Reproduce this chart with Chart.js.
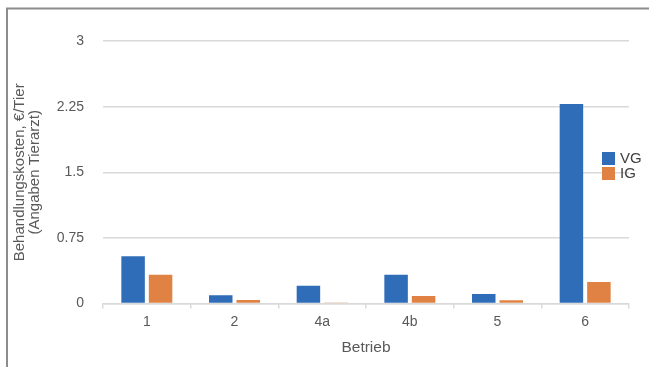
<!DOCTYPE html>
<html>
<head>
<meta charset="utf-8">
<script src="https://cdn.jsdelivr.net/npm/chart.js@4/dist/chart.umd.min.js"></script>
<style>
  html, body { margin: 0; padding: 0; background: #ffffff; }
  #wrap { position: relative; width: 649px; height: 367px; }
  canvas { display: block; }
</style>
</head>
<body>
<div id="wrap"><canvas id="c" width="649" height="367"></canvas></div>
<script>
// Treatment costs per animal (vet records), by farm
const categories = ['1', '2', '4a', '4b', '5', '6'];
const seriesNames = ['VG', 'IG'];
const vgValues = [0.54, 0.095, 0.205, 0.33, 0.11, 2.28];
const igValues = [0.33, 0.04, 0.012, 0.088, 0.038, 0.247];
const yTicks = [0, 0.75, 1.5, 2.25, 3];
const colors = ['#2f6db8', '#df8243'];

const fontFamily = '"Liberation Sans", Arial, Helvetica, sans-serif';
const gridColor = '#d9d9d9';
const textColor = '#595959';

// Outer frame line along the top and left edges
const framePlugin = {
  id: 'frame',
  beforeDraw(chart) {
    const ctx = chart.ctx;
    ctx.save();
    ctx.fillStyle = '#ffffff';
    ctx.fillRect(0, 0, chart.width, chart.height);
    ctx.strokeStyle = '#8c8c8c';
    ctx.lineWidth = 2;
    ctx.beginPath();
    ctx.moveTo(7, chart.height);
    ctx.lineTo(7, 8.5);
    ctx.lineTo(chart.width, 8.5);
    ctx.stroke();
    ctx.restore();
  }
};

// Legend drawn over the right edge of the plot area
const legendPlugin = {
  id: 'sideLegend',
  afterDraw(chart) {
    const ctx = chart.ctx;
    const area = chart.chartArea;
    const x = area.right - 27;
    let y = 152;
    ctx.save();
    ctx.font = '15px ' + fontFamily;
    ctx.textBaseline = 'middle';
    ctx.textAlign = 'left';
    chart.data.datasets.forEach(ds => {
      ctx.fillStyle = ds.backgroundColor;
      ctx.fillRect(x, y, 13, 13);
      ctx.fillStyle = '#404040';
      ctx.fillText(ds.label, x + 18, y + 7);
      y += 15;
    });
    ctx.restore();
  }
};

new Chart(document.getElementById('c'), {
  type: 'bar',
  data: {
    labels: categories,
    datasets: [
      { label: seriesNames[0], data: vgValues, backgroundColor: colors[0] },
      { label: seriesNames[1], data: igValues, backgroundColor: colors[1] }
    ]
  },
  options: {
    responsive: false,
    animation: false,
    devicePixelRatio: 1,
    layout: { padding: { left: 8, right: 20, top: 41, bottom: 10 } },
    datasets: { bar: { categoryPercentage: 0.627, barPercentage: 0.855 } },
    plugins: {
      legend: { display: false },
      tooltip: { enabled: false }
    },
    scales: {
      x: {
        grid: {
          offset: true,
          drawOnChartArea: false,
          drawTicks: true,
          tickLength: 5,
          color: gridColor,
          lineWidth: 1.5
        },
        border: { display: true, color: gridColor, width: 1.5 },
        ticks: {
          padding: 5,
          color: textColor,
          font: { family: fontFamily, size: 14 }
        },
        title: {
          display: true,
          text: 'Betrieb',
          color: textColor,
          padding: { top: 3, bottom: 0 },
          font: { family: fontFamily, size: 15.5 }
        }
      },
      y: {
        min: 0,
        max: 3,
        afterBuildTicks(scale) {
          scale.ticks = yTicks.map(v => ({ value: v }));
        },
        afterFit(scale) { scale.width = 95; },
        grid: {
          drawTicks: false,
          color: gridColor,
          lineWidth: 1.5
        },
        border: { display: false },
        ticks: {
          padding: 19,
          color: textColor,
          font: { family: fontFamily, size: 14 },
          callback: v => String(v)
        },
        title: {
          display: true,
          text: ['Behandlungskosten, €/Tier', '(Angaben Tierarzt)'],
          color: textColor,
          padding: { top: 4.5, bottom: 0 },
          font: { family: fontFamily, size: 15, lineHeight: 1.0 }
        }
      }
    }
  },
  plugins: [framePlugin, legendPlugin]
});
</script>
</body>
</html>
